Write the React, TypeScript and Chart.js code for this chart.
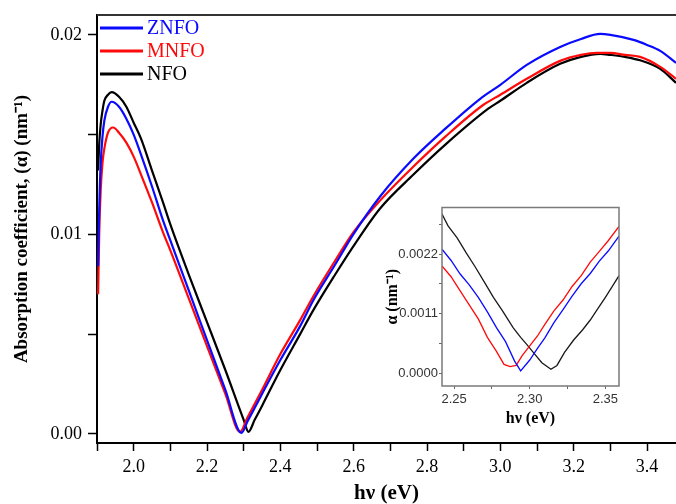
import React, { useEffect, useRef } from "react";
import { Chart, registerables } from "chart.js";
Chart.register(...registerables);

const SERIF = "'Liberation Serif', 'Times New Roman', serif";
const SANS = "'Liberation Sans', Arial, sans-serif";

const seriesNames = ["ZNFO", "MNFO", "NFO"];
const seriesColors = ["#0a0aff", "#ff0a0a", "#000000"];

// Main chart data (hν in eV, α in nm^-1)
const znfoX = [1.903, 1.906, 1.91, 1.915, 1.92, 1.93, 1.94, 1.96, 1.98, 2.0, 2.02, 2.05, 2.08, 2.1, 2.15, 2.2, 2.25, 2.294, 2.31, 2.35, 2.4, 2.454, 2.49, 2.55, 2.599, 2.672, 2.763, 2.85, 2.945, 3.0, 3.072, 3.163, 3.22, 3.272, 3.3, 3.363, 3.4, 3.436, 3.479];
const znfoY = [0.0084, 0.0112, 0.0135, 0.0149, 0.0157, 0.0164, 0.01665, 0.0164, 0.0158, 0.015, 0.014, 0.0124, 0.0107, 0.0097, 0.0072, 0.0047, 0.0022, 0.00005, 0.0006, 0.002, 0.0037, 0.0054, 0.0067, 0.0085, 0.01, 0.0119, 0.0138, 0.0153, 0.0168, 0.0175, 0.0185, 0.0194, 0.0198, 0.02005, 0.02, 0.01975, 0.0195, 0.0192, 0.0186];

const mnfoX = [1.903, 1.906, 1.91, 1.915, 1.92, 1.93, 1.944, 1.96, 1.98, 2.0, 2.02, 2.05, 2.08, 2.1, 2.15, 2.2, 2.25, 2.29, 2.31, 2.35, 2.4, 2.454, 2.49, 2.55, 2.599, 2.672, 2.763, 2.85, 2.954, 3.0, 3.072, 3.163, 3.22, 3.263, 3.3, 3.34, 3.381, 3.436, 3.479];
const mnfoY = [0.007, 0.01, 0.0122, 0.0136, 0.0143, 0.0151, 0.01536, 0.0151, 0.0146, 0.0139, 0.013, 0.0116, 0.0101, 0.0092, 0.0068, 0.0044, 0.002, 0.0001, 0.0008, 0.0022, 0.004, 0.0057, 0.0069, 0.0087, 0.0101, 0.0117, 0.0134, 0.0149, 0.0165, 0.017, 0.0178, 0.0187, 0.019, 0.0191, 0.0191, 0.019, 0.0189, 0.0184, 0.0178];

const nfoX = [1.903, 1.906, 1.91, 1.915, 1.92, 1.93, 1.94, 1.96, 1.98, 2.0, 2.02, 2.05, 2.08, 2.1, 2.15, 2.2, 2.25, 2.3, 2.313, 2.33, 2.35, 2.4, 2.454, 2.49, 2.55, 2.599, 2.672, 2.763, 2.85, 2.967, 3.0, 3.072, 3.163, 3.22, 3.272, 3.3, 3.34, 3.381, 3.436, 3.479];
const nfoY = [0.0132, 0.0145, 0.0155, 0.0162, 0.0167, 0.017, 0.01713, 0.0169, 0.0164, 0.0156, 0.0148, 0.0132, 0.0116, 0.0105, 0.008, 0.0056, 0.0032, 0.0007, 0.0001, 0.0007, 0.0014, 0.0032, 0.005, 0.0062, 0.008, 0.0094, 0.0113, 0.013, 0.0145, 0.0163, 0.0167, 0.0176, 0.01855, 0.0189, 0.01905, 0.019, 0.0189, 0.01873, 0.0183, 0.0176];

// Inset data
const insZnfoX = [2.242, 2.248, 2.254, 2.26, 2.266, 2.272, 2.278, 2.284, 2.29, 2.294, 2.3, 2.305, 2.31, 2.316, 2.322, 2.328, 2.334, 2.34, 2.346, 2.352, 2.359];
const insZnfoY = [0.00229, 0.00208, 0.00183, 0.00163, 0.0014, 0.00113, 0.00084, 0.00058, 0.00022, 0.00004, 0.00024, 0.00045, 0.00065, 0.00093, 0.00117, 0.00142, 0.00165, 0.00184, 0.00207, 0.00226, 0.00253];
const insMnfoX = [2.242, 2.248, 2.254, 2.26, 2.266, 2.272, 2.278, 2.283, 2.287, 2.291, 2.295, 2.3, 2.305, 2.31, 2.316, 2.322, 2.328, 2.334, 2.34, 2.346, 2.352, 2.359];
const insMnfoY = [0.00198, 0.00178, 0.00152, 0.00126, 0.001, 0.00066, 0.0004, 0.00016, 0.00012, 0.00014, 0.00032, 0.0005, 0.00068, 0.0009, 0.00115, 0.00135, 0.0016, 0.0018, 0.00205, 0.00225, 0.00245, 0.00271];
const insNfoX = [2.242, 2.246, 2.252, 2.258, 2.264, 2.27, 2.276, 2.282, 2.289, 2.294, 2.298, 2.303, 2.308, 2.314, 2.318, 2.323, 2.329, 2.335, 2.34, 2.345, 2.35, 2.355, 2.359];
const insNfoY = [0.00294, 0.00272, 0.0025, 0.00222, 0.00196, 0.00168, 0.0014, 0.00115, 0.00084, 0.00066, 0.00053, 0.00036, 0.00019, 0.00007, 0.00014, 0.00038, 0.00061, 0.0008, 0.00098, 0.00119, 0.0014, 0.00162, 0.0018];

// Ticks
const xTickValues = [1.9, 2.0, 2.1, 2.2, 2.3, 2.4, 2.5, 2.6, 2.7, 2.8, 2.9, 3.0, 3.1, 3.2, 3.3, 3.4];
const xTickLabels = ["", "2.0", "", "2.2", "", "2.4", "", "2.6", "", "2.8", "", "3.0", "", "3.2", "", "3.4"];
const yTickValues = [0, 0.005, 0.01, 0.015, 0.02];
const yTickLabels = ["0.00", "", "0.01", "", "0.02"];
const insXTickValues = [2.25, 2.275, 2.3, 2.325, 2.35];
const insXTickLabels = ["2.25", "", "2.30", "", "2.35"];
const insYTickValues = [0, 0.00055, 0.0011, 0.00165, 0.0022, 0.00275];
const insYTickLabels = ["0.0000", "", "0.0011", "", "0.0022", ""];

const zip = (xs: number[], ys: number[]) => xs.map((x, i) => ({ x, y: ys[i] }));

const mainSeries = [zip(znfoX, znfoY), zip(mnfoX, mnfoY), zip(nfoX, nfoY)];
const insetSeries = [zip(insZnfoX, insZnfoY), zip(insMnfoX, insMnfoY), zip(insNfoX, insNfoY)];

const mainDecor = {
  id: "mainDecor",
  afterDraw(chart: any) {
    const { ctx, chartArea } = chart;
    ctx.save();
    ctx.strokeStyle = "#333";
    ctx.lineWidth = 2;
    ctx.beginPath();
    ctx.moveTo(chartArea.left, chartArea.top);
    ctx.lineTo(chartArea.right + 2, chartArea.top);
    ctx.stroke();
    ctx.font = `20px ${SERIF}`;
    ctx.textBaseline = "middle";
    seriesNames.forEach((name, i) => {
      const y = chartArea.top + 13 + i * 23;
      ctx.strokeStyle = seriesColors[i];
      ctx.lineWidth = 3;
      ctx.beginPath();
      ctx.moveTo(chartArea.left + 3, y);
      ctx.lineTo(chartArea.left + 46, y);
      ctx.stroke();
      ctx.fillStyle = seriesColors[i];
      ctx.fillText(name, chartArea.left + 50, y + 1);
    });
    ctx.restore();
  },
};

const insetDecor = {
  id: "insetDecor",
  afterDraw(chart: any) {
    const { ctx, chartArea } = chart;
    ctx.save();
    ctx.strokeStyle = "#7a7a7a";
    ctx.lineWidth = 1.5;
    ctx.strokeRect(chartArea.left, chartArea.top, chartArea.right - chartArea.left, chartArea.bottom - chartArea.top);
    ctx.restore();
  },
};

export default function App() {
  const mainRef = useRef<HTMLCanvasElement>(null);
  const insetRef = useRef<HTMLCanvasElement>(null);

  useEffect(() => {
    const main = new Chart(mainRef.current!, {
      type: "line",
      data: {
        datasets: seriesNames.map((name, i) => ({
          label: name,
          data: mainSeries[i],
          borderColor: seriesColors[i],
          backgroundColor: seriesColors[i],
          borderWidth: 2.2,
          pointRadius: 0,
          cubicInterpolationMode: "monotone" as const,
          fill: false,
        })),
      },
      options: {
        animation: false,
        responsive: false,
        events: [],
        layout: { padding: { top: 11, right: 0, bottom: 0, left: 0 } },
        plugins: { legend: { display: false }, tooltip: { enabled: false } },
        scales: {
          x: {
            type: "linear",
            min: 1.9,
            max: 3.479,
            afterBuildTicks: (s: any) => {
              s.ticks = xTickValues.map((v) => ({ value: v }));
            },
            afterFit: (s: any) => {
              s.height = 61;
            },
            ticks: {
              callback: (_v: any, i: number) => xTickLabels[i],
              font: { family: SERIF, size: 18, lineHeight: 1 },
              color: "#000",
              padding: 7,
              maxRotation: 0,
              autoSkip: false,
            },
            grid: { drawOnChartArea: false, drawTicks: true, tickLength: 8, tickWidth: 1.5, tickColor: "#000" },
            border: { display: true, color: "#000", width: 2 },
            title: {
              display: true,
              text: "hν (eV)",
              color: "#000",
              font: { family: SERIF, size: 21, weight: "bold", lineHeight: 1 },
              padding: 0,
            },
          },
          y: {
            type: "linear",
            min: -0.00046,
            max: 0.021,
            afterBuildTicks: (s: any) => {
              s.ticks = yTickValues.map((v) => ({ value: v }));
            },
            afterFit: (s: any) => {
              s.width = 97;
            },
            ticks: {
              callback: (_v: any, i: number) => yTickLabels[i],
              font: { family: SERIF, size: 18, lineHeight: 1 },
              color: "#000",
              padding: 6,
            },
            grid: { drawOnChartArea: false, drawTicks: true, tickLength: 9, tickWidth: 1.5, tickColor: "#000" },
            border: { display: true, color: "#000", width: 2 },
            title: {
              display: true,
              text: "Absorption coefficient, (α) (nm⁻¹)",
              color: "#000",
              font: { family: SERIF, size: 19, weight: "bold", lineHeight: 1 },
              padding: { top: 13, bottom: 0 },
            },
          },
        },
      },
      plugins: [mainDecor],
    } as any);

    const inset = new Chart(insetRef.current!, {
      type: "line",
      data: {
        datasets: seriesNames.map((name, i) => ({
          label: name,
          data: insetSeries[i],
          borderColor: seriesColors[i] === "#000000" ? "#1a1a1a" : seriesColors[i],
          borderWidth: 1.3,
          pointRadius: 0,
          tension: 0,
          fill: false,
        })),
      },
      options: {
        animation: false,
        responsive: false,
        events: [],
        layout: { padding: { top: 6, right: 6, bottom: 0, left: 0 } },
        plugins: { legend: { display: false }, tooltip: { enabled: false } },
        scales: {
          x: {
            type: "linear",
            min: 2.242,
            max: 2.359,
            afterBuildTicks: (s: any) => {
              s.ticks = insXTickValues.map((v) => ({ value: v }));
            },
            afterFit: (s: any) => {
              s.height = 44;
            },
            ticks: {
              callback: (_v: any, i: number) => insXTickLabels[i],
              font: { family: SANS, size: 13, lineHeight: 1 },
              color: "#333",
              padding: 4,
              maxRotation: 0,
              autoSkip: false,
            },
            grid: { drawOnChartArea: false, drawTicks: true, tickLength: 3, tickWidth: 1, tickColor: "#666" },
            border: { display: false },
            title: {
              display: true,
              text: "hν (eV)",
              color: "#000",
              font: { family: SERIF, size: 16, weight: "bold", lineHeight: 1 },
              padding: { top: 0, bottom: 3 },
            },
          },
          y: {
            type: "linear",
            min: -0.00024,
            max: 0.00306,
            afterBuildTicks: (s: any) => {
              s.ticks = insYTickValues.map((v) => ({ value: v }));
            },
            afterFit: (s: any) => {
              s.width = 62;
            },
            ticks: {
              callback: (_v: any, i: number) => insYTickLabels[i],
              font: { family: SANS, size: 13, lineHeight: 1 },
              color: "#333",
              padding: 1,
            },
            grid: { drawOnChartArea: false, drawTicks: true, tickLength: 3, tickWidth: 1, tickColor: "#666" },
            border: { display: false },
            title: {
              display: true,
              text: "α (nm⁻¹)",
              color: "#000",
              font: { family: SERIF, size: 16, weight: "bold", lineHeight: 1 },
              padding: { top: 5, bottom: 0 },
            },
          },
        },
      },
      plugins: [insetDecor],
    } as any);

    return () => {
      main.destroy();
      inset.destroy();
    };
  }, []);

  return (
    <div style={{ position: "fixed", left: 0, top: 0, width: 676, height: 504, background: "#fff", overflow: "hidden" }}>
      <canvas ref={mainRef} width={676} height={504} style={{ position: "absolute", left: 0, top: 0, display: "block" }} />
      <canvas ref={insetRef} width={245} height={230} style={{ position: "absolute", left: 380, top: 200, display: "block" }} />
    </div>
  );
}
